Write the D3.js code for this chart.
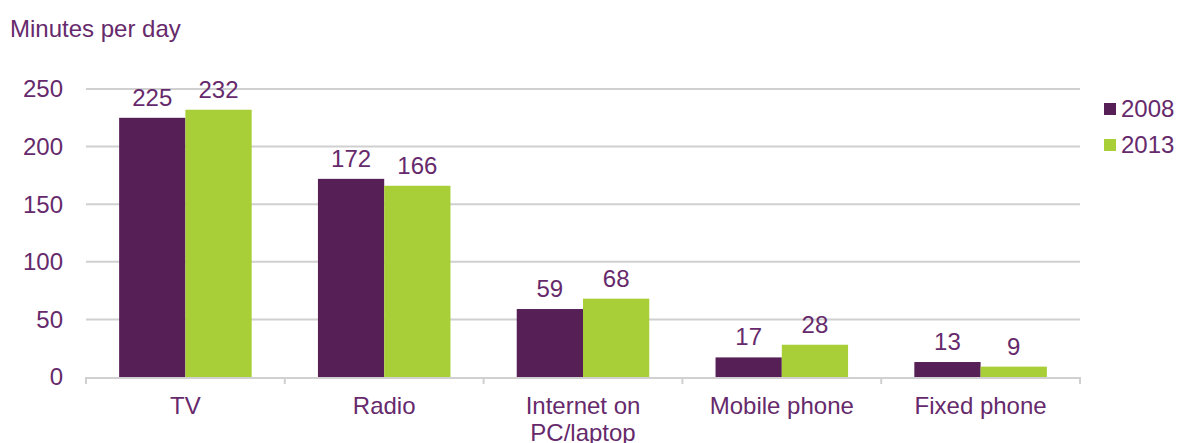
<!DOCTYPE html>
<html><head><meta charset="utf-8">
<script src="https://cdn.jsdelivr.net/npm/d3@7/dist/d3.min.js"></script>
<style>body{margin:0;background:#fff}svg{display:block}text{font-family:"Liberation Sans",Arial,sans-serif}</style>
</head><body><svg id="c" width="1180" height="443"></svg>
<script>
const categories = [["TV"], ["Radio"], ["Internet on", "PC/laptop"], ["Mobile phone"], ["Fixed phone"]];
const seriesNames = ["2008", "2013"];
const values2008 = [225, 172, 59, 17, 13];
const values2013 = [232, 166, 68, 28, 9];
const yTicks = [0, 50, 100, 150, 200, 250];
const colors = ["#561f56", "#a8cf38"];
const textColor = "#662a6c";
const fs = 24;

const svg = d3.select("#c");
const x0 = 86, x1 = 1080, yBottom = 377, yTop = 89;
const x = d3.scaleBand().domain(categories.map((d,i)=>i)).range([x0, x1]).paddingInner(0).paddingOuter(0);
const xs = d3.scaleBand().domain([0,1]).range([0, x.bandwidth()]).paddingInner(0).paddingOuter(0.5);
const y = d3.scaleLinear().domain([0, 250]).range([yBottom, yTop]);

// gridlines
svg.append("g").selectAll("line").data(yTicks.filter(t=>t>0)).join("line")
  .attr("x1", x0).attr("x2", x1).attr("y1", d=>y(d)).attr("y2", d=>y(d))
  .attr("stroke", "#d0d0d0").attr("stroke-width", 2);

// y labels
svg.append("g").selectAll("text").data(yTicks).join("text")
  .attr("x", 63).attr("y", d=>y(d)).attr("dy", "0.35em").attr("text-anchor", "end")
  .attr("fill", textColor).attr("font-size", fs).text(d=>d);

// title
svg.append("text").attr("x", 10).attr("y", 37).attr("fill", textColor).attr("font-size", fs).text("Minutes per day");

// bars
const series = [values2008, values2013];
const g = svg.append("g");
series.forEach((vals, si) => {
  g.selectAll(null).data(vals).join("rect")
    .attr("x", (d,i)=>x(i)+xs(si)).attr("width", xs.bandwidth())
    .attr("y", d=>y(d)).attr("height", d=>yBottom - y(d)).attr("fill", colors[si]);
  g.selectAll(null).data(vals).join("text")
    .attr("x", (d,i)=>x(i)+xs(si)+xs.bandwidth()/2).attr("y", d=>y(d)-12)
    .attr("text-anchor", "middle").attr("fill", textColor).attr("font-size", fs).text(d=>d);
});

// x axis
const ax = svg.append("g");
ax.append("line").attr("x1", x0).attr("x2", x1).attr("y1", yBottom+1).attr("y2", yBottom+1)
  .attr("stroke", "#d0d0d0").attr("stroke-width", 2);
ax.selectAll("line.t").data(d3.range(categories.length+1)).join("line").attr("class","t")
  .attr("x1", i=>x0 + i*x.bandwidth()).attr("x2", i=>x0 + i*x.bandwidth())
  .attr("y1", yBottom).attr("y2", yBottom+7).attr("stroke", "#d0d0d0").attr("stroke-width", 2);
const cl = ax.selectAll("text.c").data(categories).join("text").attr("class","c")
  .attr("x", (d,i)=>x(i)+x.bandwidth()/2).attr("y", 414)
  .attr("text-anchor", "middle").attr("fill", textColor).attr("font-size", fs);
cl.each(function(d){
  d3.select(this).selectAll("tspan").data(d).join("tspan")
    .attr("x", d3.select(this).attr("x")).attr("dy", (t,j)=>j===0?0:27).text(t=>t);
});

// legend
const lg = svg.append("g");
seriesNames.forEach((n, i) => {
  lg.append("rect").attr("x", 1104).attr("y", 103 + i*36).attr("width", 12).attr("height", 12).attr("fill", colors[i]);
  lg.append("text").attr("x", 1121).attr("y", 117 + i*36).attr("fill", textColor).attr("font-size", fs).text(n);
});
</script></body></html>
